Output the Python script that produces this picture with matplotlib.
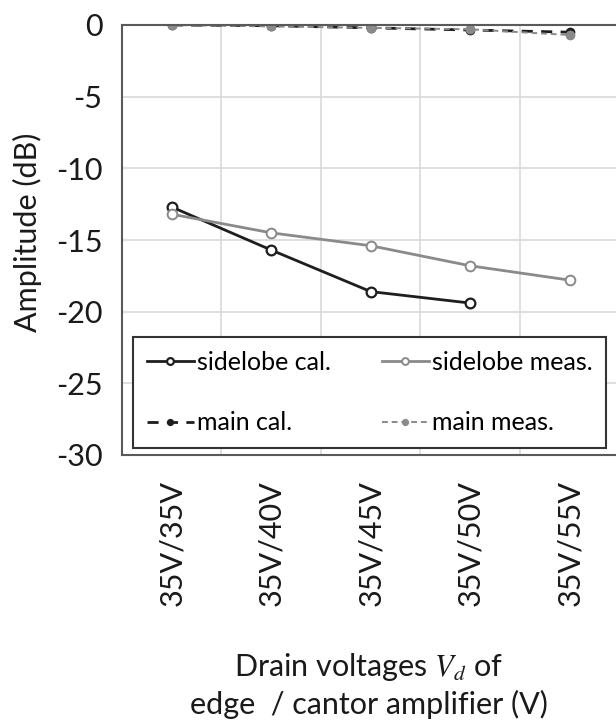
"""Sidelobe / main-lobe amplitude vs drain voltage of edge and cantor amplifiers."""

import numpy as np
import matplotlib
matplotlib.use("Agg")
import matplotlib.pyplot as plt
from matplotlib.ticker import FixedLocator


# %% data

voltages = ['35V/35V', '35V/40V', '35V/45V', '35V/50V', '35V/55V']

sidelobe_cal = [-12.7, -15.7, -18.6, -19.4]
sidelobe_meas = [-13.2, -14.5, -15.4, -16.8, -17.8]
main_cal = [0.0, -0.05, -0.2, -0.35, -0.5]
main_meas = [0.0, -0.1, -0.2, -0.3, -0.7]


# %% plot

plt.rcParams['font.family'] = ['Lato', 'DejaVu Sans']
plt.rcParams['mathtext.fontset'] = 'stix'
plt.rcParams['axes.unicode_minus'] = False

fig = plt.figure(figsize=(6.16, 7.23), dpi=100)
ax = fig.add_axes([122 / 616, 1 - 455 / 723, 494 / 616, 430 / 723])

x = np.arange(len(voltages))

ax.plot(x[:len(sidelobe_cal)], sidelobe_cal, '-o', color='#1e1e1e', lw=2,
        ms=7, mfc='white', mew=1.6, label='sidelobe cal.')
ax.plot(x, main_cal, '--o', color='#1e1e1e', lw=2, ms=6,
        mfc='#1e1e1e', dashes=(4, 3), label='main cal.')
ax.plot(x, sidelobe_meas, '-o', color='#8a8a8a', lw=2,
        ms=7, mfc='white', mew=1.4, label='sidelobe meas.')
ax.plot(x, main_meas, '--o', color='#8a8a8a', lw=1.4, ms=6,
        mfc='#8a8a8a', dashes=(3, 2), label='main meas.')

ax.set_xlim(-0.5, 4.465)
ax.set_ylim(-30, 0)
ax.set_yticks(np.arange(-30, 1, 5))
ax.set_xticks(x)
ax.set_xticklabels(voltages, rotation=90)
ax.xaxis.set_minor_locator(FixedLocator(x[:-1] + 0.5))

ax.tick_params(axis='both', which='both', length=0, labelsize=22, colors='#1a1a1a')
ax.tick_params(axis='x', pad=18)
ax.tick_params(axis='y', pad=14)

ax.grid(True, axis='y', which='major', color='#d9d9d9', lw=1.2)
ax.grid(True, axis='x', which='minor', color='#d9d9d9', lw=1.2)
ax.set_axisbelow(True)

for side in ['left', 'bottom', 'top']:
    ax.spines[side].set_color('#5a5a5a')
    ax.spines[side].set_linewidth(1.5)
ax.spines['right'].set_visible(False)

leg = ax.legend(loc='lower left', bbox_to_anchor=(0.022, 0.016, 0.958, 0.265),
                mode='expand', ncol=2, fontsize=18, frameon=True, fancybox=False,
                handlelength=1.9, handletextpad=0.1, borderaxespad=0,
                labelspacing=1.5, columnspacing=0.8, borderpad=0.55,
                markerscale=0.7)
leg.get_frame().set_edgecolor('#333333')
leg.get_frame().set_linewidth(1.5)
leg.get_frame().set_alpha(1)

fig.text(27 / 616, 1 - 232 / 723, 'Amplitude (dB)', rotation=90,
         ha='center', va='center', fontsize=22, color='#1a1a1a')
fig.text(369 / 616, 1 - 685 / 723, 'Drain voltages $V_d$ of\nedge  / cantor amplifier (V)',
         ha='center', va='center', multialignment='center', fontsize=22,
         color='#1a1a1a', linespacing=1.25)

plt.savefig('out.png', dpi=100)
